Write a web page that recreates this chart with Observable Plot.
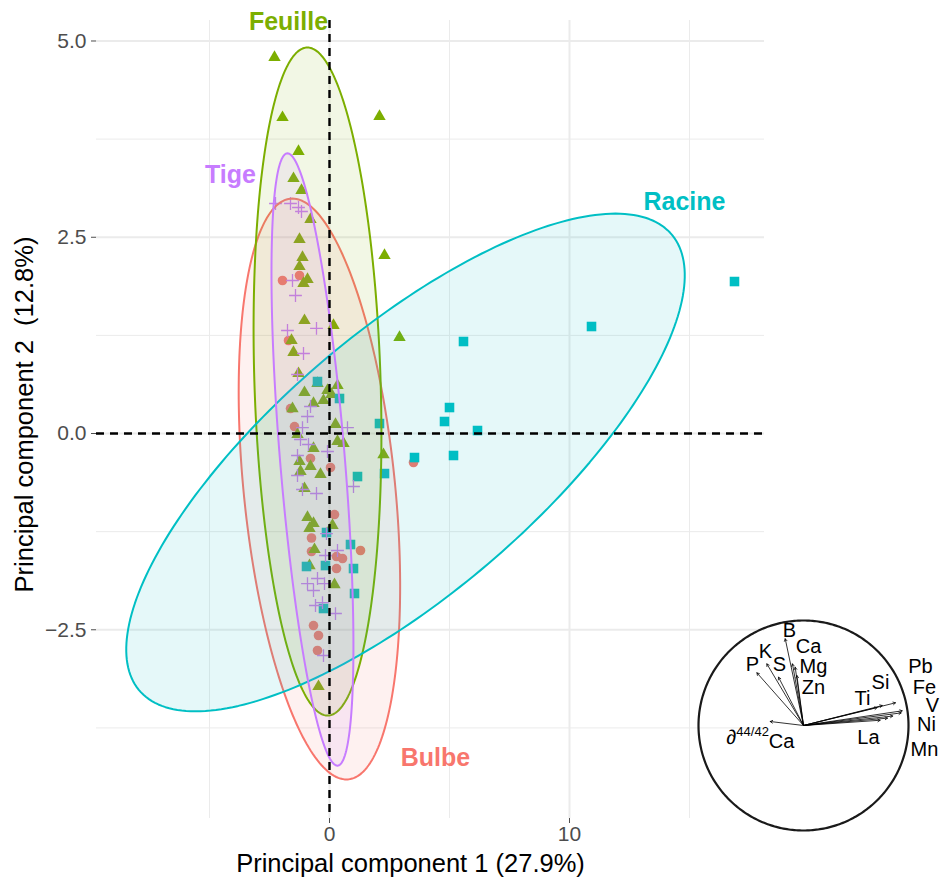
<!DOCTYPE html>
<html><head><meta charset="utf-8">
<script src="https://cdn.jsdelivr.net/npm/d3@7"></script>
<script src="https://cdn.jsdelivr.net/npm/@observablehq/plot@0.6"></script>
<style>
body{margin:0;background:#fff;}
#wrap{position:relative;width:941px;height:881px;font-family:"Liberation Sans",Arial,sans-serif;}
#inset{position:absolute;left:672px;top:605px;}
</style></head><body><div id="wrap"><div id="main"></div><div id="inset"></div></div>
<script>
// ---- groups ----
const groups = ["Bulbe", "Feuille", "Racine", "Tige"];
const colors = ["#F8766D", "#7CAE00", "#00BFC4", "#C77CFF"];

// ---- individuals (PC1, PC2) ----
const bulbeX = [-1.958, -1.25, -1.708, -1.625, -1.458, -0.792, 0.042, 0.208, -0.75, -0.75, 0.292, 0.542, 1.292, 0.292, -0.667, -0.458, -0.5, 3.5];
const bulbeY = [1.949, 2.013, 1.185, 0.318, 0.089, -0.318, -0.433, -1.032, -1.331, -1.503, -1.567, -1.592, -1.49, -1.72, -2.446, -2.573, -2.764, -0.369];

const feuilleX = [-2.292, -1.958, 2.083, -1.292, -1.5, -1.167, -0.792, -1.25, -1.125, -1.25, -0.917, -1.083, 2.292, -1.042, 0.167, 2.917, -1.583, -1.5, -1.292, -0.5, -1.042, -0.083, 0.333, -0.25, 0.083, -0.667, -1.542, 0.25, -1.333, 0.333, 0.583, 2.25, -0.667, -1.25, -0.792, -0.375, -1.208, -1.042, -0.917, -0.667, -0.833, 0.125, -0.625, -0.833, 0.208, -0.458];
const feuilleY = [4.79, 4.025, 4.038, 3.592, 3.248, 3.096, 2.726, 2.471, 2.242, 2.127, 1.962, 1.911, 2.268, 1.439, 1.376, 1.223, 1.185, 1.032, 0.764, 0.637, 0.522, 0.548, 0.611, 0.42, 0.497, 0.382, 0.318, 0.115, -0.013, -0.102, -0.127, -0.268, -0.191, -0.357, -0.42, -0.522, -0.484, -0.701, -1.07, -1.146, -1.21, -1.172, -1.478, -1.682, -1.924, -3.223];

const racineX = [16.875, 10.917, 5.583, 5.0, 4.792, 6.167, 2.083, 3.542, 5.167, 2.292, 1.167, -0.5, 0.417, -0.125, 0.875, -0.958, -0.167, 1.0, 1.042, -0.25];
const racineY = [1.936, 1.363, 1.172, 0.331, 0.153, 0.038, 0.127, -0.306, -0.28, -0.51, -0.548, 0.662, 0.446, -1.261, -1.414, -1.694, -1.682, -1.72, -2.038, -2.229];

const tigeX = [-2.25, -1.625, -1.292, -1.167, -1.542, -1.417, -1.75, -0.542, -1.083, -1.333, -0.792, -0.917, -1.125, 0.75, -1.208, -0.875, -0.083, -1.333, -1.333, -1.125, -0.542, 1.0, -0.125, 0.333, -0.167, -0.917, -0.667, -0.5, -0.208, -0.583, 0.25, -0.292, -0.25];
const tigeY = [2.93, 2.93, 2.879, 2.828, 1.949, 1.758, 1.312, 1.338, 1.019, 0.752, 0.344, 0.217, 0.076, 0.076, -0.076, -0.14, -0.229, -0.28, -0.535, -0.713, -0.764, -0.675, -1.274, -1.49, -1.554, -1.911, -2.0, -1.847, -1.911, -2.191, -2.293, -2.153, -2.828];

// ---- concentration ellipses (center, horizontal half-chord p, top point offset q/r) ----
const ellipseCx = [-0.42, -0.5, 3.167, -0.71];
const ellipseCy = [-0.707, 0.662, -0.369, -0.331];
const ellipseP  = [3.17, 2.63, 7.67, 1.354];
const ellipseQ  = [-1.125, -0.42, 8.75, -1.04];
const ellipseR  = [3.70, 4.255, 3.17, 3.90];

// ---- group labels ----
const labelX = [4.417, -1.708, 14.79, -4.125];
const labelY = [-4.127, 5.236, 2.955, 3.299];

// ---- axes ----
const xTicks = [0, 10];
const yTicks = [-2.5, 0, 2.5, 5];
const xMinor = [-5, 5, 15];
const yMinor = [-3.75, -1.25, 1.25, 3.75];
const xTitle = "Principal component 1 (27.9%)";
const yTitle = "Principal component 2  (12.8%)";

// ---- variables (correlation circle) ----
const varNames = ["B", "P", "K", "S", "Ca", "Mg", "Zn", "∂44/42Ca", "Pb", "Fe", "V", "Ni", "Mn", "La", "Ti", "Si"];
const varPC1 = [-0.174, -0.444, -0.349, -0.238, -0.105, -0.079, -0.063, -0.317, 0.876, 0.94, 0.93, 0.85, 0.80, 0.73, 0.70, 0.75];
const varPC2 = [0.826, 0.502, 0.587, 0.46, 0.587, 0.555, 0.476, 0.038, 0.216, 0.14, 0.12, 0.09, 0.07, 0.05, 0.17, 0.19];
const varLabelX = [-0.133, -0.486, -0.362, -0.229, 0.048, 0.095, 0.095, -0.41, 1.114, 1.152, 1.229, 1.171, 1.152, 0.619, 0.562, 0.733];
const varLabelY = [0.905, 0.581, 0.705, 0.581, 0.75, 0.56, 0.362, -0.114, 0.56, 0.362, 0.19, 0.01, -0.229, -0.114, 0.257, 0.41];

// ---- build tables ----
const pts = (xs, ys, g) => xs.map((x, i) => ({x, y: ys[i], group: g}));
const bulbe = pts(bulbeX, bulbeY, groups[0]);
const feuille = pts(feuilleX, feuilleY, groups[1]);
const racine = pts(racineX, racineY, groups[2]);
const tige = pts(tigeX, tigeY, groups[3]);

const ellipses = [];
groups.forEach((g, i) => {
  for (let k = 0; k <= 240; k++) {
    const t = 2 * Math.PI * k / 240;
    ellipses.push({group: g,
      x: ellipseCx[i] + ellipseP[i] * Math.cos(t) + ellipseQ[i] * Math.sin(t),
      y: ellipseCy[i] + ellipseR[i] * Math.sin(t)});
  }
});
const groupLabels = groups.map((g, i) => ({group: g, x: labelX[i], y: labelY[i]}));

const font = "'Liberation Sans', Arial, Helvetica, sans-serif";
const grid = "#EBEBEB";

const main = Plot.plot({
  width: 941, height: 881,
  marginLeft: 96, marginRight: 177, marginTop: 20, marginBottom: 63,
  style: {fontFamily: font, background: "transparent"},
  x: {domain: [-9.708, 18.125]},
  y: {domain: [-4.904, 5.261]},
  color: {domain: groups, range: colors},
  marks: [
    Plot.gridX(xMinor, {stroke: grid, strokeOpacity: 1, strokeWidth: 1}),
    Plot.gridY(yMinor, {stroke: grid, strokeOpacity: 1, strokeWidth: 1}),
    Plot.gridX(xTicks, {stroke: grid, strokeOpacity: 1, strokeWidth: 2}),
    Plot.gridY(yTicks, {stroke: grid, strokeOpacity: 1, strokeWidth: 2}),
    Plot.dot(bulbe, {x: "x", y: "y", symbol: "circle", fill: colors[0], r: 4.8}),
    Plot.dot(feuille, {x: "x", y: "y", symbol: "triangle", fill: colors[1], r: 4.6}),
    Plot.dot(racine, {x: "x", y: "y", symbol: "square", fill: colors[2], r: 5.4}),
    Plot.dot(tige, {x: "x", y: "y", symbol: "plus", stroke: colors[3], fill: "none", strokeWidth: 1.3, r: 4.2}),
    Plot.line(ellipses, {x: "x", y: "y", z: "group", stroke: "group", fill: "group", fillOpacity: 0.1, strokeWidth: 2}),
    Plot.ruleX([0], {stroke: "black", strokeWidth: 2.4, strokeDasharray: "8,6"}),
    Plot.ruleY([0], {stroke: "black", strokeWidth: 2.4, strokeDasharray: "8,6"}),
    Plot.text(groupLabels, {x: "x", y: "y", text: "group", fill: "group", fontWeight: "bold", fontSize: 25}),
    Plot.axisX(xTicks, {tickSize: 5, tickPadding: 3, fontSize: 21, color: "#4D4D4D", label: null}),
    Plot.axisY(yTicks, {tickSize: 5, tickPadding: 5, fontSize: 21, color: "#4D4D4D", tickFormat: d3.format(".1f"), label: null}),
    Plot.text([xTitle], {text: d => d, frameAnchor: "bottom", textAnchor: "middle", lineAnchor: "middle", dx: -20, dy: 45, fontSize: 25.5, fill: "black"}),
    Plot.text([yTitle], {text: d => d, frameAnchor: "left", textAnchor: "middle", lineAnchor: "middle", dx: -72, dy: -5, rotate: -90, fontSize: 25.5, fill: "black"})
  ]
});
document.getElementById("main").appendChild(main);

// ---- correlation circle inset ----
const vars = varNames.map((n, i) => ({name: n, x: varPC1[i], y: varPC2[i], lx: varLabelX[i], ly: varLabelY[i]}));
const unitCircle = d3.range(0, 361).map(a => ({x: Math.cos(a * Math.PI / 180), y: Math.sin(a * Math.PI / 180)}));
const inset = Plot.plot({
  width: 269, height: 260,
  marginLeft: 26, marginRight: 33, marginTop: 15, marginBottom: 35,
  style: {fontFamily: font, background: "transparent", overflow: "visible"},
  x: {domain: [-1, 1], axis: null},
  y: {domain: [-1, 1], axis: null},
  marks: [
    Plot.line(unitCircle, {x: "x", y: "y", stroke: "#1a1a1a", strokeWidth: 2.2}),
    Plot.arrow(vars, {x1: d => 0, y1: d => 0, x2: "x", y2: "y", stroke: "black", strokeWidth: 0.8, headLength: 5}),
    Plot.text(vars, {x: "lx", y: "ly", text: "name", fontSize: 20, fill: "black"})
  ]
});
document.getElementById("inset").appendChild(inset);
d3.select(inset).selectAll("text").filter(function() { return this.textContent === "∂44/42Ca"; })
  .each(function() {
    const t = d3.select(this);
    t.text("∂");
    t.append("tspan").attr("font-size", "13").attr("dy", "-0.6em").text("44/42");
    t.append("tspan").attr("dy", "0.6em").text("Ca");
  });
</script></body></html>
